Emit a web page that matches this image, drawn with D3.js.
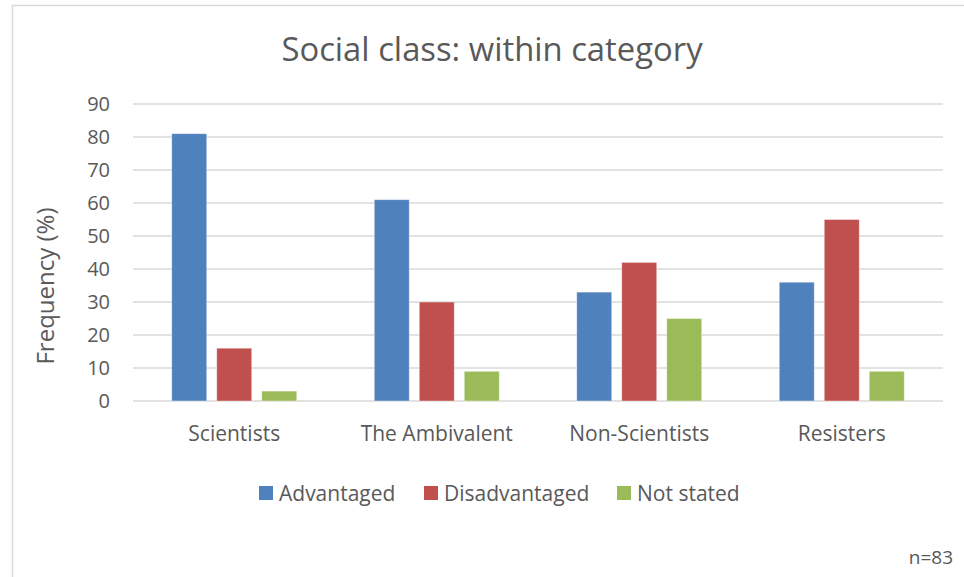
<!DOCTYPE html>
<html><head><meta charset="utf-8">
<script src="https://cdn.jsdelivr.net/npm/d3@7"></script>
<style>body{margin:0;background:#fff}svg{display:block}text{font-family:"Open Sans",sans-serif;fill:#595959}</style>
</head><body>
<script>
const categories = ["Scientists","The Ambivalent","Non-Scientists","Resisters"];
const seriesNames = ["Advantaged","Disadvantaged","Not stated"];
const advantaged = [81,61,33,36];
const disadvantaged = [16,30,42,55];
const notStated = [3,9,25,9];
const yTicks = [0,10,20,30,40,50,60,70,80,90];
const colors = ["#4f81bd","#c0504d","#9bbb59"];
const series = [advantaged, disadvantaged, notStated];

const W=964,H=577;
const svg=d3.select("body").append("svg").attr("width",W).attr("height",H);
svg.append("rect").attr("x",12.5).attr("y",5.5).attr("width",W+20).attr("height",H+20)
  .attr("fill","#fff").attr("stroke","#d9d9d9").attr("stroke-width",1.5);

const L=133,R=943,T=104,B=401;
const x=d3.scaleBand().domain(categories).range([L,R]);
const y=d3.scaleLinear().domain([0,90]).range([B,T]);
const bw=35, step=45;

svg.append("text").attr("x",492).attr("y",61).attr("text-anchor","middle").attr("font-size",32.8).text("Social class: within category");

svg.append("g").selectAll("line").data(yTicks).join("line")
  .attr("x1",L).attr("x2",R).attr("y1",d=>y(d)).attr("y2",d=>y(d))
  .attr("stroke","#d9d9d9").attr("stroke-width",1.3);

svg.append("g").selectAll("text").data(yTicks).join("text")
  .attr("x",110).attr("y",d=>y(d)+7).attr("text-anchor","end").attr("font-size",20).text(d=>d);

svg.append("text").attr("transform","translate(54,286) rotate(-90)").attr("text-anchor","middle").attr("font-size",24).text("Frequency (%)");

series.forEach((s,si)=>{
  svg.append("g").selectAll("rect").data(categories).join("rect")
    .attr("x",(c)=>x(c)+x.bandwidth()/2-62.5+si*step)
    .attr("y",(c,i)=>y(s[i])).attr("width",bw).attr("height",(c,i)=>B-y(s[i]))
    .attr("fill",colors[si]).attr("stroke","#fff").attr("stroke-opacity",0.5).attr("stroke-width",0.8);
});

svg.append("g").selectAll("text").data(categories).join("text")
  .attr("x",c=>x(c)+x.bandwidth()/2).attr("y",441).attr("text-anchor","middle").attr("font-size",21).text(c=>c);

const legX=[259,424,617];
seriesNames.forEach((n,i)=>{
  svg.append("rect").attr("x",legX[i]).attr("y",486).attr("width",14).attr("height",14).attr("fill",colors[i]);
  svg.append("text").attr("x",legX[i]+20).attr("y",501).attr("font-size",21).text(n);
});

svg.append("text").attr("x",953).attr("y",564).attr("text-anchor","end").attr("font-size",19).text("n=83");
</script>
</body></html>
